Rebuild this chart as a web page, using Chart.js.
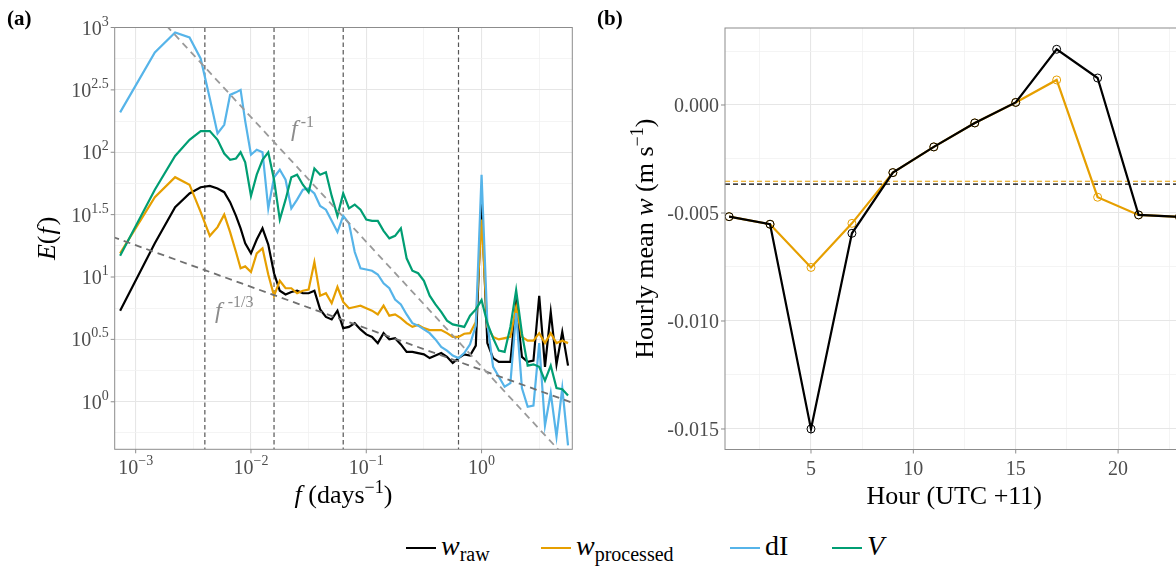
<!DOCTYPE html>
<html>
<head>
<meta charset="utf-8">
<script src="https://cdn.jsdelivr.net/npm/chart.js@4.4.0/dist/chart.umd.min.js"></script>
<style>
  html, body { margin: 0; padding: 0; background: #fff; overflow: hidden; }
  body { width: 1176px; height: 567px; position: relative; font-family: 'Liberation Serif', 'Times New Roman', serif; }
  #panelA { position: absolute; left: 0; top: 0; }
  #panelB { position: absolute; left: 590px; top: 0; }
  .item { position: absolute; top: 528px; height: 36px; white-space: nowrap; color: #000; }
  .key { position: absolute; left: 0; top: 19px; width: 30px; height: 2.4px; }
  .lab { position: absolute; left: 35px; top: 0; font-size: 28px; line-height: 36px; }
  .lab sub { font-size: 20px; font-style: normal; vertical-align: -6px; line-height: 0; }
</style>
</head>
<body>
<canvas id="panelA" width="590" height="520"></canvas>
<canvas id="panelB" width="612" height="520"></canvas>

<div class="item" style="left:406px"><span class="key" style="background:#000000"></span><span class="lab"><i>w</i><sub>raw</sub></span></div>
<div class="item" style="left:541px"><span class="key" style="background:#E69F00"></span><span class="lab"><i>w</i><sub>processed</sub></span></div>
<div class="item" style="left:730px"><span class="key" style="background:#56B4E9"></span><span class="lab">dI</span></div>
<div class="item" style="left:832px"><span class="key" style="background:#009E73"></span><span class="lab"><i>V</i></span></div>

<script>
// ---- panel (a): spectra, log10 f (days^-1) vs log10 E(f)
const logFreq = [-3.135, -2.834, -2.658, -2.533, -2.436, -2.357, -2.290, -2.232, -2.181, -2.13,
  -2.09, -2.05, -2.00, -1.95, -1.90, -1.85, -1.80, -1.75, -1.70, -1.65,
  -1.60, -1.55, -1.50, -1.45, -1.40, -1.35, -1.30, -1.25, -1.20, -1.15,
  -1.10, -1.05, -1.00, -0.95, -0.90, -0.85, -0.80, -0.75, -0.70, -0.65,
  -0.60, -0.55, -0.50, -0.45, -0.40, -0.35, -0.30, -0.25, -0.20, -0.15,
  -0.10, -0.05, 0.00, 0.05, 0.10, 0.15, 0.20, 0.25, 0.30, 0.35,
  0.40, 0.45, 0.50, 0.55, 0.60, 0.65, 0.70, 0.75];

const logE_wRaw = [0.73, 1.27, 1.56, 1.67, 1.72, 1.73, 1.71, 1.68, 1.60, 1.49,
  1.39, 1.27, 1.19, 1.30, 1.39, 1.26, 1.03, 0.89, 0.86, 0.88,
  0.89, 0.87, 0.87, 0.89, 0.74, 0.68, 0.66, 0.73, 0.59, 0.60,
  0.63, 0.58, 0.54, 0.52, 0.47, 0.55, 0.50, 0.51, 0.46, 0.40,
  0.40, 0.39, 0.38, 0.35, 0.37, 0.39, 0.36, 0.31, 0.35, 0.38,
  0.37, 0.45, 1.62, 0.47, 0.35, 0.32, 0.32, 0.32, 0.79, 0.36,
  0.32, 0.33, 0.85, 0.28, 0.72, 0.30, 0.56, 0.29];

const logE_wProc = [1.19, 1.64, 1.80, 1.74, 1.52, 1.33, 1.40, 1.50, 1.36, 1.20,
  1.07, 1.085, 1.04, 1.19, 1.23, 1.02, 0.85, 0.97, 0.91, 0.91,
  0.87, 0.89, 0.90, 1.12, 0.85, 0.87, 0.79, 0.92, 0.80, 0.75,
  0.76, 0.77, 0.75, 0.73, 0.70, 0.77, 0.69, 0.70, 0.67, 0.63,
  0.60, 0.615, 0.59, 0.575, 0.575, 0.575, 0.55, 0.52, 0.52, 0.545,
  0.55, 0.64, 1.46, 0.60, 0.52, 0.50, 0.51, 0.52, 0.76, 0.52,
  0.49, 0.49, 0.55, 0.47, 0.55, 0.47, 0.49, 0.47];

const logE_dI = [2.32, 2.80, 2.96, 2.92, 2.75, 2.43, 2.15, 2.22, 2.46, 2.48,
  2.50, 2.25, 1.98, 2.02, 2.00, 1.55, 1.80, 1.86, 1.78, 1.55,
  1.62, 1.70, 1.71, 1.67, 1.57, 1.54, 1.45, 1.36, 1.49, 1.43,
  1.20, 1.07, 1.06, 1.05, 1.02, 0.95, 0.91, 0.82, 0.78, 0.70,
  0.63, 0.61, 0.58, 0.55, 0.50, 0.44, 0.41, 0.37, 0.35, 0.39,
  0.46, 0.61, 1.82, 0.63, 0.28, 0.20, 0.12, 0.15, 0.71, 0.11,
  -0.04, -0.03, 0.47, -0.19, 0.07, -0.28, 0.11, -0.35];

const logE_V = [1.17, 1.70, 1.97, 2.10, 2.17, 2.17, 2.10, 1.99, 1.94, 1.95,
  2.00, 1.92, 1.65, 1.82, 1.94, 2.00, 1.78, 1.46, 1.62, 1.80,
  1.82, 1.74, 1.68, 1.87, 1.82, 1.84, 1.65, 1.49, 1.67, 1.55,
  1.58, 1.54, 1.46, 1.45, 1.45, 1.37, 1.31, 1.33, 1.39, 1.15,
  1.05, 1.03, 0.97, 0.85, 0.78, 0.72, 0.65, 0.62, 0.61, 0.60,
  0.69, 0.74, 0.815, 0.63, 0.51, 0.41, 0.40, 0.60, 0.895, 0.55,
  0.29, 0.30, 0.28, 0.17, 0.29, 0.11, 0.10, 0.05];

// power-law guide lines: log10 E = intercept + slope * log10 f
const guideSlopes = [-1, -1 / 3];
const guideIntercepts = [0.282, 0.255];
const cutoffLogFreq = [-2.40, -1.80, -1.20, -0.20];

const xTicksA = [-3, -2, -1, 0];
const yTicksA = [0, 0.5, 1, 1.5, 2, 2.5, 3];

// ---- panel (b): hourly mean w
const hours = [1, 3, 5, 7, 9, 11, 13, 15, 17, 19, 21, 23];
const wRawHourly = [-0.00517, -0.00552, -0.0150, -0.00594, -0.00313, -0.00194, -0.00083, 0.00012, 0.00258, 0.00125, -0.00509, -0.00518];
const wProcHourly = [-0.00517, -0.00552, -0.00752, -0.00548, -0.00313, -0.00194, -0.00083, 0.00012, 0.00116, -0.00427, -0.00509, -0.00518];
const meanRaw = -0.00366;
const meanProc = -0.00353;
const xTicksB = [5, 10, 15, 20];
const yTicksB = [0, -0.005, -0.010, -0.015];

const COLORS = { raw: '#000000', proc: '#E69F00', dI: '#56B4E9', V: '#009E73' };
const SERIF = "'Liberation Serif', 'Times New Roman', serif";
const font = (size, style) => (style || '') + ' ' + size + 'px ' + SERIF;

function drawRich(ctx, parts, x, y, align) {
  let total = 0;
  parts.forEach(p => { ctx.font = p.font; p.w = ctx.measureText(p.text).width + (p.dx || 0); total += p.w; });
  let cx = align === 'right' ? x - total : align === 'center' ? x - total / 2 : x;
  ctx.textAlign = 'left';
  ctx.textBaseline = 'alphabetic';
  parts.forEach(p => {
    ctx.font = p.font;
    ctx.fillStyle = p.color || '#000';
    ctx.fillText(p.text, cx + (p.dx || 0), y + (p.dy || 0));
    cx += p.w;
  });
}

function gridFor(majorTest) {
  return {
    drawTicks: false,
    color: c => (c.tick && majorTest(c.tick.value)) ? '#e6e6e6' : '#f1f1f1',
    lineWidth: c => (c.tick && majorTest(c.tick.value)) ? 1.1 : 0.8
  };
}

const zeroWidth = s => { s.width = 0; };
const zeroHeight = s => { s.height = 0; };

function frame(chart) {
  const ctx = chart.ctx, a = chart.chartArea;
  ctx.save();
  ctx.strokeStyle = '#8c8c8c';
  ctx.lineWidth = 1;
  ctx.strokeRect(a.left, a.top, a.right - a.left, a.bottom - a.top);
  ctx.restore();
}

function tickMarks(chart, xs, ys) {
  const ctx = chart.ctx, a = chart.chartArea;
  ctx.save();
  ctx.strokeStyle = '#8c8c8c';
  ctx.lineWidth = 1;
  ctx.beginPath();
  xs.forEach(v => { const px = chart.scales.x.getPixelForValue(v); ctx.moveTo(px, a.bottom); ctx.lineTo(px, a.bottom + 4); });
  ys.forEach(v => { const py = chart.scales.y.getPixelForValue(v); ctx.moveTo(a.left - 4, py); ctx.lineTo(a.left, py); });
  ctx.stroke();
  ctx.restore();
}

const panelAPlugin = {
  id: 'panelA',
  beforeDatasetsDraw(chart) {
    const ctx = chart.ctx, a = chart.chartArea;
    ctx.save();
    ctx.strokeStyle = '#555555';
    ctx.lineWidth = 1.2;
    ctx.setLineDash([4.5, 3]);
    cutoffLogFreq.forEach(v => {
      const px = chart.scales.x.getPixelForValue(v);
      ctx.beginPath(); ctx.moveTo(px, a.top); ctx.lineTo(px, a.bottom); ctx.stroke();
    });
    ctx.restore();
  },
  afterDraw(chart) {
    const ctx = chart.ctx, a = chart.chartArea, xs = chart.scales.x, ys = chart.scales.y;
    frame(chart);
    tickMarks(chart, xTicksA, yTicksA);
    const grey = '#4d4d4d';
    yTicksA.forEach(v => {
      drawRich(ctx, [
        { text: '10', font: font(20), color: grey },
        { text: String(v), font: font(14), color: grey, dy: -9 }
      ], a.left - 6, ys.getPixelForValue(v) + 7, 'right');
    });
    xTicksA.forEach(v => {
      drawRich(ctx, [
        { text: '10', font: font(20), color: grey },
        { text: v === 0 ? '0' : '\u2212' + Math.abs(v), font: font(14), color: grey, dy: -9 }
      ], xs.getPixelForValue(v), a.bottom + 25, 'center');
    });
    // axis titles
    drawRich(ctx, [
      { text: 'f', font: font(26, 'italic') },
      { text: ' (days', font: font(26) },
      { text: '\u22121', font: font(18), dy: -10 },
      { text: ')', font: font(26) }
    ], (a.left + a.right) / 2, a.bottom + 54, 'center');
    ctx.save();
    ctx.translate(55, (a.top + a.bottom) / 2);
    ctx.rotate(-Math.PI / 2);
    drawRich(ctx, [
      { text: 'E', font: font(26, 'italic') },
      { text: '(', font: font(26) },
      { text: 'f', font: font(26, 'italic'), dx: 1 },
      { text: ')', font: font(26), dx: 2 }
    ], 0, 0, 'center');
    ctx.restore();
    // guide labels
    const lg = '#8c8c8c';
    drawRich(ctx, [
      { text: 'f', font: font(24, 'italic'), color: lg },
      { text: '-1', font: font(16), color: lg, dy: -9, dx: 3 }
    ], xs.getPixelForValue(-1.652), ys.getPixelForValue(2.127), 'left');
    drawRich(ctx, [
      { text: 'f', font: font(24, 'italic'), color: lg },
      { text: '-1/3', font: font(16), color: lg, dy: -11, dx: 6 }
    ], xs.getPixelForValue(-2.311), ys.getPixelForValue(0.671), 'left');
    ctx.font = font(21, 'bold');
    ctx.fillStyle = '#000';
    ctx.textAlign = 'left';
    ctx.fillText('(a)', 7, 25);
  }
};

const panelBPlugin = {
  id: 'panelB',
  beforeDatasetsDraw(chart) {
    const ctx = chart.ctx, a = chart.chartArea;
    ctx.save();
    ctx.lineWidth = 1.2;
    ctx.setLineDash([5, 3]);
    [[meanProc, COLORS.proc], [meanRaw, COLORS.raw]].forEach(([m, col]) => {
      const py = chart.scales.y.getPixelForValue(m);
      ctx.strokeStyle = col;
      ctx.beginPath(); ctx.moveTo(a.left, py); ctx.lineTo(a.right, py); ctx.stroke();
    });
    ctx.restore();
  },
  afterDraw(chart) {
    const ctx = chart.ctx, a = chart.chartArea, xs = chart.scales.x, ys = chart.scales.y;
    frame(chart);
    tickMarks(chart, xTicksB, yTicksB);
    const grey = '#4d4d4d';
    yTicksB.forEach(v => {
      drawRich(ctx, [{ text: v.toFixed(3), font: font(20), color: grey }], a.left - 6, ys.getPixelForValue(v) + 7, 'right');
    });
    xTicksB.forEach(v => {
      drawRich(ctx, [{ text: String(v), font: font(20), color: grey }], xs.getPixelForValue(v), a.bottom + 25, 'center');
    });
    drawRich(ctx, [{ text: 'Hour (UTC +11)', font: font(26) }], (a.left + a.right) / 2, a.bottom + 54, 'center');
    ctx.save();
    ctx.translate(63, (a.top + a.bottom) / 2);
    ctx.rotate(-Math.PI / 2);
    drawRich(ctx, [
      { text: 'Hourly mean ', font: font(26) },
      { text: 'w', font: font(26, 'italic') },
      { text: ' (m s', font: font(26) },
      { text: '\u22121', font: font(18), dy: -10 },
      { text: ')', font: font(26) }
    ], 0, 0, 'center');
    ctx.restore();
    ctx.font = font(21, 'bold');
    ctx.fillStyle = '#000';
    ctx.textAlign = 'left';
    ctx.fillText('(b)', 7, 25);
  }
};

function spectrum(label, values, color, order) {
  return {
    label: label,
    data: logFreq.map((f, i) => ({ x: f, y: values[i] })),
    borderColor: color,
    borderWidth: 2.2,
    pointRadius: 0,
    tension: 0,
    order: order
  };
}

function guide(i, color) {
  const xr = [-3.3, 0.9];
  return {
    label: 'guide' + i,
    data: xr.map(x => ({ x: x, y: guideIntercepts[i] + guideSlopes[i] * x })),
    borderColor: color,
    borderWidth: 1.8,
    borderDash: [7, 5],
    pointRadius: 0,
    order: 0
  };
}

new Chart(document.getElementById('panelA'), {
  type: 'line',
  data: {
    datasets: [
      spectrum('w raw', logE_wRaw, COLORS.raw, 4),
      spectrum('w processed', logE_wProc, COLORS.proc, 3),
      spectrum('dI', logE_dI, COLORS.dI, 2),
      spectrum('V', logE_V, COLORS.V, 1),
      guide(0, '#9a9a9a'),
      guide(1, '#707070')
    ]
  },
  options: {
    responsive: false,
    animation: false,
    events: [],
    layout: { padding: { left: 114.7, top: 27.5, right: 17.7, bottom: 70.7 } },
    plugins: { legend: { display: false }, tooltip: { enabled: false } },
    scales: {
      x: {
        type: 'linear', min: -3.182, max: 0.787,
        ticks: { display: false },
        border: { display: false },
        grid: gridFor(v => Number.isInteger(v)),
        afterBuildTicks: s => { s.ticks = [-3, -2.5, -2, -1.5, -1, -0.5, 0, 0.5].map(v => ({ value: v })); },
        afterFit: zeroHeight
      },
      y: {
        type: 'linear', min: -0.381, max: 3.0,
        ticks: { display: false },
        border: { display: false },
        grid: gridFor(v => Math.abs(v * 2 - Math.round(v * 2)) < 1e-9),
        afterBuildTicks: s => { s.ticks = [-0.25, 0, 0.25, 0.5, 0.75, 1, 1.25, 1.5, 1.75, 2, 2.25, 2.5, 2.75].map(v => ({ value: v })); },
        afterFit: zeroWidth
      }
    }
  },
  plugins: [panelAPlugin]
});

function hourly(label, values, color, order) {
  return {
    label: label,
    data: hours.map((h, i) => ({ x: h, y: values[i] })),
    borderColor: color,
    borderWidth: 2.2,
    pointRadius: 4,
    pointBorderWidth: 1,
    pointBorderColor: color,
    pointBackgroundColor: 'rgba(0,0,0,0)',
    tension: 0,
    order: order
  };
}

new Chart(document.getElementById('panelB'), {
  type: 'line',
  data: {
    datasets: [
      hourly('w raw', wRawHourly, COLORS.raw, 1),
      hourly('w processed', wProcHourly, COLORS.proc, 2)
    ]
  },
  options: {
    responsive: false,
    animation: false,
    events: [],
    layout: { padding: { left: 135, top: 28, right: 18.4, bottom: 70.5 } },
    plugins: { legend: { display: false }, tooltip: { enabled: false } },
    scales: {
      x: {
        type: 'linear', min: 0.8, max: 23.2,
        ticks: { display: false },
        border: { display: false },
        grid: gridFor(v => v % 5 === 0),
        afterBuildTicks: s => { s.ticks = [2.5, 5, 7.5, 10, 12.5, 15, 17.5, 20, 22.5].map(v => ({ value: v })); },
        afterFit: zeroHeight
      },
      y: {
        type: 'linear', min: -0.01595, max: 0.003565,
        ticks: { display: false },
        border: { display: false },
        grid: gridFor(v => Math.round(v * 10000) % 50 === 0),
        afterBuildTicks: s => { s.ticks = [-150, -125, -100, -75, -50, -25, 0, 25].map(v => ({ value: v / 10000 })); },
        afterFit: zeroWidth
      }
    }
  },
  plugins: [panelBPlugin]
});
</script>
</body>
</html>
